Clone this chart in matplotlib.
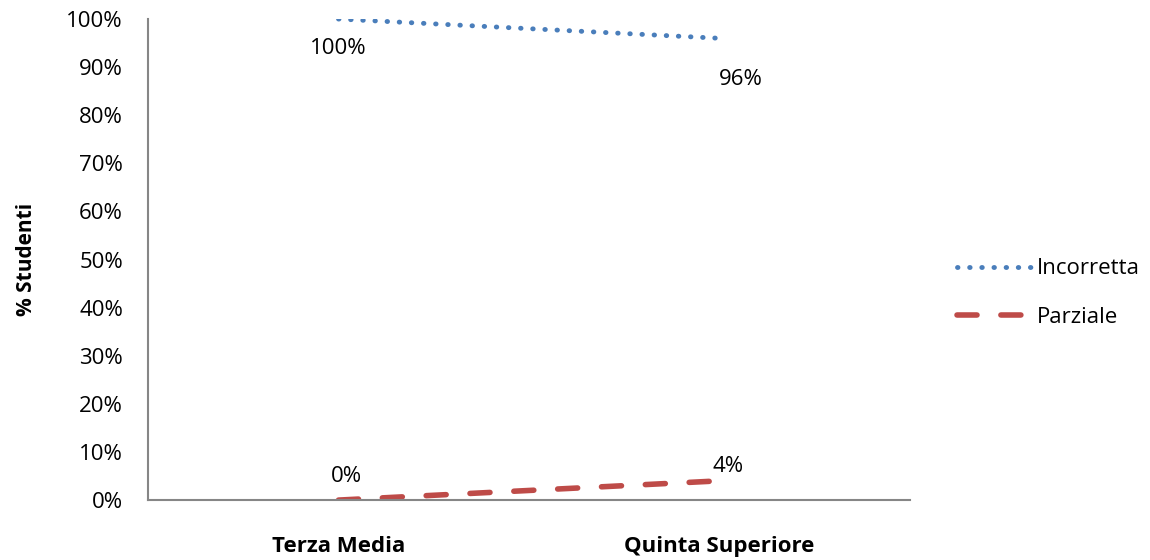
import matplotlib.pyplot as plt
from matplotlib.ticker import PercentFormatter

plt.rcParams['font.family'] = ['Open Sans', 'DejaVu Sans']

categorie = ['Terza Media', 'Quinta Superiore']
incorretta = [100, 96]
parziale = [0, 4]

fig = plt.figure(figsize=(11.5, 5.6), dpi=100)
ax = fig.add_axes([0.1287, 0.107, 0.6626, 0.859])

x = range(len(categorie))
ax.plot(x, incorretta, color='#4a7ebb', linestyle=(0, (0.1, 2.4)), linewidth=3.5,
        dash_capstyle='round', label='Incorretta')
ax.plot(x, parziale, color='#be4b48', linestyle=(0, (3.6, 4.3)), linewidth=4,
        dash_capstyle='round', label='Parziale')

# etichette dati
offs_inc = [(0, -21), (15, -30)]
offs_par = [(6, 17), (6, 10)]
for i in x:
    ax.annotate(f'{incorretta[i]}%', (i, incorretta[i]), xytext=offs_inc[i],
                textcoords='offset points', ha='center', va='center', fontsize=16)
    ax.annotate(f'{parziale[i]}%', (i, parziale[i]), xytext=offs_par[i],
                textcoords='offset points', ha='center', va='center', fontsize=16)

ax.set_xlim(-0.5, 1.5)
ax.set_ylim(0, 100)
ax.set_yticks(range(0, 101, 10))
ax.yaxis.set_major_formatter(PercentFormatter(decimals=0))
ax.set_xticks(list(x))
ax.set_xticklabels(categorie, fontweight='bold', fontsize=16)
ax.tick_params(axis='both', length=0, labelsize=16)
ax.tick_params(axis='x', pad=26)
ax.tick_params(axis='y', pad=18)
ax.set_ylabel('% Studenti', fontweight='bold', fontsize=15, labelpad=21)

for s in ['top', 'right']:
    ax.spines[s].set_visible(False)
for s in ['left', 'bottom']:
    ax.spines[s].set_color('#868686')
    ax.spines[s].set_linewidth(1.5)

ax.legend(loc='center left', bbox_to_anchor=(1.035, 0.43), frameon=False,
          fontsize=16, handlelength=3.4, handletextpad=0.2, labelspacing=1.25)

fig.savefig('out.png', dpi=100)
